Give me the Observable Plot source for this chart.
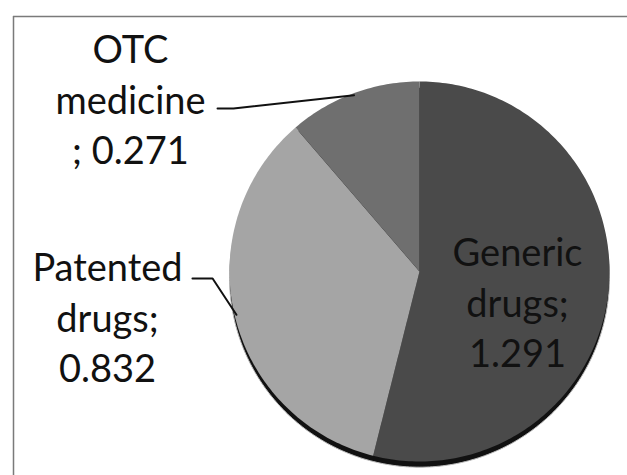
<!DOCTYPE html>
<html>
<head>
<meta charset="utf-8">
<script src="https://cdn.jsdelivr.net/npm/d3@7"></script>
<script src="https://cdn.jsdelivr.net/npm/@observablehq/plot@0.6"></script>
<style>
  html, body { margin: 0; padding: 0; background: #fff; overflow: hidden; }
</style>
</head>
<body>
<div id="chart"></div>
<script>
// ---- data ----
const names = ["Generic drugs", "Patented drugs", "OTC medicine"];
const values = [1.291, 0.832, 0.271];
const labelTexts = ["Generic\ndrugs;\n1.291", "Patented\ndrugs;\n0.832", "OTC\nmedicine\n; 0.271"];
const colors = ["#4a4a4a", "#a5a5a5", "#6f6f6f"];

// ---- layout (pie in unit coordinates, centre 0,0, radius 1) ----
const W = 627, H = 475, mL = 13, mT = 16;
const cx = 419, cy = 271, R = 190;           // pixel centre / radius
const xDom = [(mL - cx) / R, (W - cx) / R];
const yDom = [(cy - H) / R, (cy - mT) / R];
const labelLayout = {
  "Generic drugs":  {x: 0.516, y: -0.153, leader: null},
  "Patented drugs": {x: -1.642, y: -0.232, leader: [[-1.195, -0.037], [-1.089, -0.037]]},
  "OTC medicine":   {x: -1.521, y: 0.916, leader: [[-1.063, 0.858], [-0.979, 0.858]]}
};

// ---- geometry through d3.pie ----
const arcs = d3.pie().sort(null).value(d => d)(values);
const slicePts = [];
arcs.forEach((a, i) => {
  slicePts.push({name: names[i], x: 0, y: 0});
  const n = Math.max(2, Math.ceil((a.endAngle - a.startAngle) / (Math.PI / 180)));
  for (let k = 0; k <= n; k++) {
    const t = a.startAngle + (a.endAngle - a.startAngle) * k / n;
    slicePts.push({name: names[i], x: Math.sin(t), y: Math.cos(t)});
  }
});
const shadowPts = d3.range(0, 361).map(d => {
  const t = d * Math.PI / 180;
  return {x: Math.sin(t), y: Math.cos(t) - 0.03};
});

const labels = names.map((nm, i) => ({name: nm, text: labelTexts[i], x: labelLayout[nm].x, y: labelLayout[nm].y}));
const leaderPts = [];
arcs.forEach((a, i) => {
  const L = labelLayout[names[i]].leader;
  if (!L) return;
  const mid = (a.startAngle + a.endAngle) / 2;
  L.forEach(p => leaderPts.push({name: names[i], x: p[0], y: p[1]}));
  leaderPts.push({name: names[i], x: 0.99 * Math.sin(mid), y: 0.99 * Math.cos(mid)});
});

const chart = Plot.plot({
  width: W,
  height: H,
  marginLeft: mL,
  marginTop: mT,
  marginRight: 0,
  marginBottom: 0,
  style: {background: "#fff", maxWidth: "none"},
  x: {domain: xDom, axis: null},
  y: {domain: yDom, axis: null},
  color: {domain: names, range: colors},
  marks: [
    Plot.ruleX([xDom[0]], {stroke: "#7a7a7a", strokeWidth: 1.5}),
    Plot.ruleY([yDom[1]], {stroke: "#7a7a7a", strokeWidth: 1.5}),
    Plot.line(shadowPts, {x: "x", y: "y", fill: "#111", stroke: "#bbb", strokeWidth: 1}),
    Plot.line(slicePts, {x: "x", y: "y", z: "name", fill: "name", stroke: "none"}),
    Plot.line(leaderPts, {x: "x", y: "y", z: "name", stroke: "#111", strokeWidth: 2}),
    Plot.text(labels, {x: "x", y: "y", text: "text", fontFamily: "Lato", fontSize: 38, lineHeight: 1.32, fill: "#111", textAnchor: "middle", lineAnchor: "middle"})
  ]
});
document.getElementById("chart").appendChild(chart);
</script>
</body>
</html>
